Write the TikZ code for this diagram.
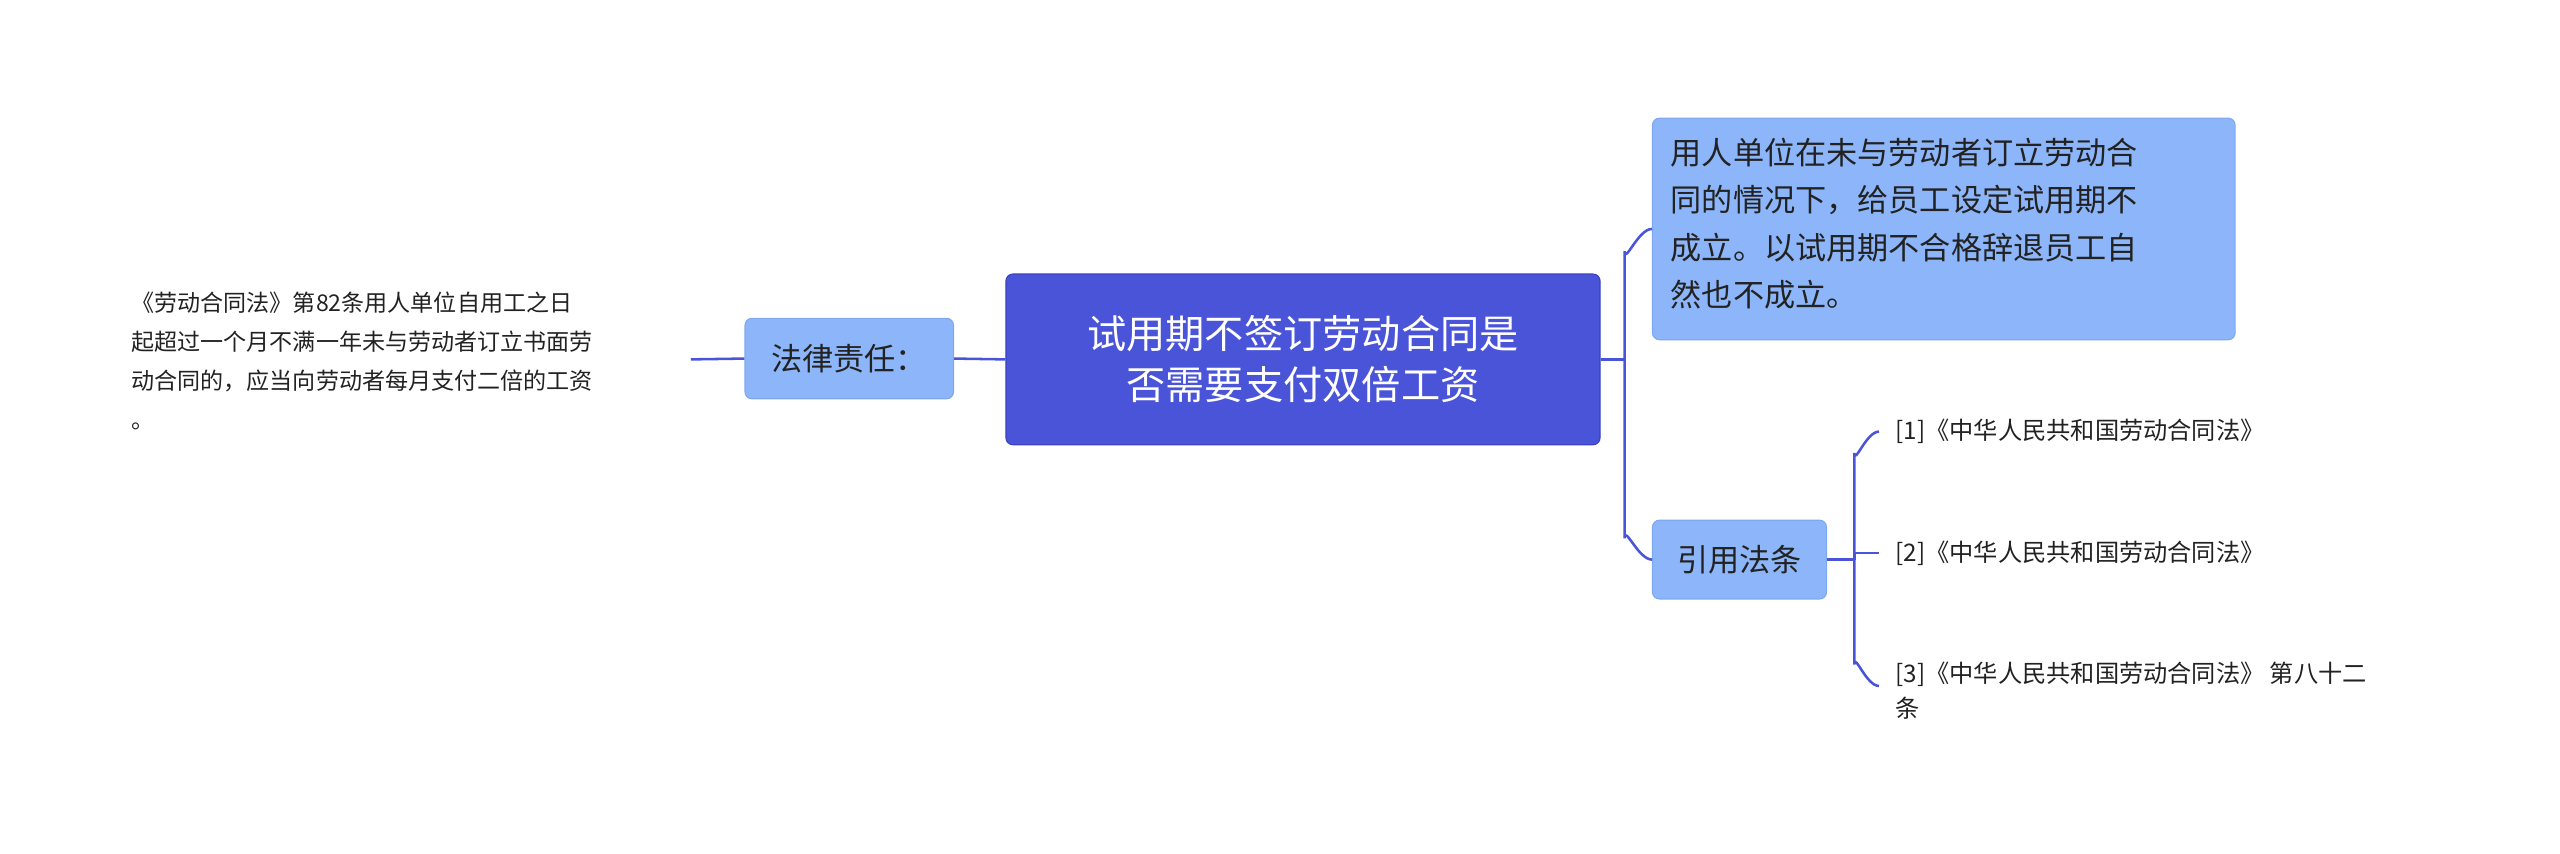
\documentclass[tikz,border=0pt]{standalone}
\usepackage{fontspec}
\setmainfont{Noto Sans CJK SC}
\begin{document}
\begin{tikzpicture}[x=0.05cm,y=-0.05cm,
  rootbox/.style={fill=rootc,draw=rootd,line width=1pt,rounded corners=6pt,text=white,font=\fontsize{34}{44}\selectfont,align=center,inner sep=0},
  subbox/.style={fill=subc,draw=subd,line width=1pt,rounded corners=6pt,text=txt,inner sep=0},
  plain/.style={text=txt,align=left,inner sep=0},
  link/.style={draw=linec,line width=2.2pt}]
\definecolor{rootc}{HTML}{4A54D9}
\definecolor{rootd}{HTML}{3A44C0}
\definecolor{subc}{HTML}{8DB6FA}
\definecolor{subd}{HTML}{7EA8F0}
\definecolor{txt}{HTML}{222222}
\definecolor{linec}{HTML}{4A54D9}
\useasboundingbox (0,0) rectangle (1560,520);
\node[rootbox,minimum width=362*0.05cm,minimum height=104*0.05cm] (root) at (794,219) {试用期不签订劳动合同是\\否需要支付双倍工资};
\node[subbox,minimum width=127*0.05cm,minimum height=49*0.05cm,font=\fontsize{27}{34}\selectfont] (law) at (517.5,218.5) {法律责任：};
\node[plain,anchor=west,font=\fontsize{20}{34}\selectfont] (lawt) at (80,220) {《劳动合同法》第82条用人单位自用工之日\\起超过一个月不满一年未与劳动者订立书面劳\\动合同的，应当向劳动者每月支付二倍的工资\\。};
\node[subbox,minimum width=355*0.05cm,minimum height=135*0.05cm] (top) at (1184.5,139.5) {};
\node[plain,anchor=north west,font=\fontsize{27}{41}\selectfont] (topt) at (1018,84) {用人单位在未与劳动者订立劳动合\\同的情况下，给员工设定试用期不\\成立。以试用期不合格辞退员工自\\然也不成立。};
\node[subbox,minimum width=106*0.05cm,minimum height=48*0.05cm,font=\fontsize{27}{34}\selectfont] (cite) at (1060,341) {引用法条};
\node[plain,anchor=west,font=\fontsize{21}{30}\selectfont] (r1) at (1155,263) {[1]《中华人民共和国劳动合同法》};
\node[plain,anchor=west,font=\fontsize{21}{30}\selectfont] (r2) at (1155,337) {[2]《中华人民共和国劳动合同法》};
\node[plain,anchor=west,font=\fontsize{21}{30}\selectfont] (r3) at (1155,421) {[3]《中华人民共和国劳动合同法》 第八十二\\条};
\coordinate (lend) at (421,219);
\draw[link] (root.west) -- (law.east);
\draw[link] (law.west) -- (lend);
\draw[link] (root.east) -- (990,219);
\draw[link] (root.east) -- (990,219) -- (990,153) to[out=-90,in=180] (top.west);
\draw[link] (990,219) -- (990,328) to[out=90,in=180] (cite.west);
\draw[link] (cite.east) -- (1130,341);
\draw[link] (1130,341) -- (1130,276) to[out=-90,in=180] (1145,263);
\draw[link] (1130,341) -- (1130,337) to (1145,337);
\draw[link] (1130,341) -- (1130,405) to[out=90,in=180] (1145,418);
\end{tikzpicture}
\end{document}
